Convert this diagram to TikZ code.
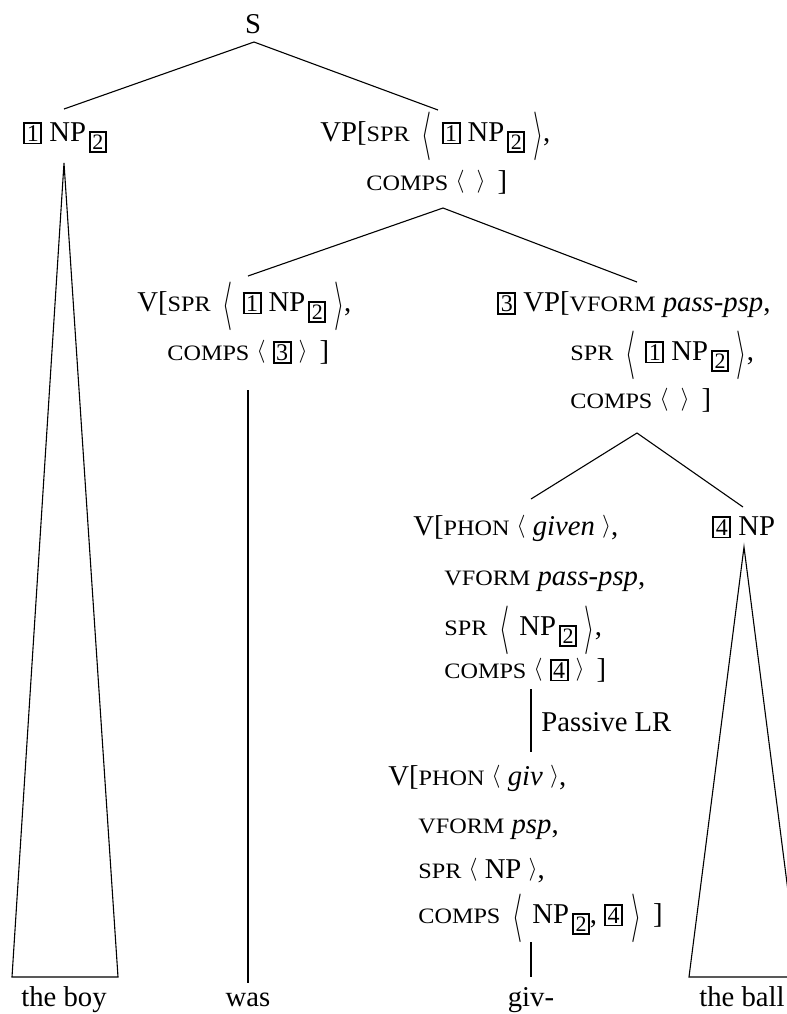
\documentclass[tikz,border=0pt]{standalone}
\usepackage{fontspec}
\setmainfont{Liberation Serif}
\usepackage{graphicx}
\newcommand\fsc[1]{\scalebox{1.1}[1]{\fontsize{11}{12}\selectfont #1}}
\newcommand\bx[1]{{\setlength\fboxsep{0.8pt}\setlength\fboxrule{0.9pt}\fbox{\fontsize{12}{12}\selectfont #1}}}
\newcommand\sbx[1]{\hspace{1.5pt}\raisebox{-4.2pt}{\setlength\fboxsep{0.8pt}\setlength\fboxrule{0.9pt}\fbox{\fontsize{11}{11}\selectfont #1}}}
\newcommand\la{\raisebox{0.08em}{\scalebox{0.8}{$\langle$}}}
\newcommand\ra{\raisebox{0.08em}{\scalebox{0.8}{$\rangle$}}}
\newcommand\bigang[1]{\raisebox{-0.8pt}{$\vcenter{\hbox{\resizebox*{5pt}{25.5pt}{$\Big#1$}}}$}}
\newcommand\Bla{\hspace{6pt}\bigang\langle\hspace{5pt}}
\newcommand\Bra{\hspace{4pt}\bigang\rangle}
\tikzset{
  lbl/.style={anchor=base west, inner sep=0pt, font=\fontsize{14.35}{17.2}\selectfont},
  wrd/.style={anchor=base, inner sep=0pt, font=\fontsize{14.35}{17.2}\selectfont},
  edge/.style={line width=0.55pt}
}
\begin{document}
\begin{tikzpicture}[x=0.5pt,y=-0.5pt]
\useasboundingbox (0,0) rectangle (787,1014);
\clip (0,0) rectangle (787,1014);
% labels
\node[wrd] (S) at (253,33) {S};
\node[lbl] (np1) at (23,141) {\bx{1} NP\sbx{2}};
\node[lbl] (vp1) at (320,141) {VP[\fsc{SPR}\Bla\bx{1} NP\sbx{2}\Bra,};
\node[lbl] (vp2) at (366,190) {\fsc{COMPS} \la\hspace{6pt}\ra\ \,]};
\node[lbl] (v1) at (137,311) {V[\fsc{SPR}\Bla\bx{1} NP\sbx{2}\Bra,};
\node[lbl] (v2) at (167,360) {\fsc{COMPS} \la\ \bx{3} \ra\ \,]};
\node[lbl] (pv1) at (497,311) {\bx{3} VP[\fsc{VFORM} \textit{pass-psp},};
\node[lbl] (pv2) at (570,360) {\fsc{SPR}\Bla\bx{1} NP\sbx{2}\Bra,};
\node[lbl] (pv3) at (570,408) {\fsc{COMPS} \la\hspace{6pt}\ra\ \,]};
\node[lbl] (g1) at (413,535) {V[\fsc{PHON} \la\ \textit{given} \ra,};
\node[lbl] (g2) at (444,585) {\fsc{VFORM} \textit{pass-psp},};
\node[lbl] (g3) at (444,635) {\fsc{SPR}\Bla NP\sbx{2}\Bra,};
\node[lbl] (g4) at (444,678) {\fsc{COMPS} \la\ \bx{4} \ra\ \,]};
\node[lbl] (np4) at (712,535) {\bx{4} NP};
\node[lbl] (lr) at (541,731) {Passive LR};
\node[lbl] (h1) at (388,785) {V[\fsc{PHON} \la\ \textit{giv} \ra,};
\node[lbl] (h2) at (418,833) {\fsc{VFORM} \textit{psp},};
\node[lbl] (h3) at (418,878) {\fsc{SPR} \la\ NP \ra,};
\node[lbl] (h4) at (418,923) {\fsc{COMPS}\Bla NP\sbx{2}, \bx{4}\Bra\hspace{6pt}]};
\node[wrd] (w1) at (64,1006) {the boy};
\node[wrd] (w2) at (248,1006) {was};
\node[wrd] (w3) at (531,1006) {giv-};
\node[wrd] (w4) at (742,1006) {the ball};
% connector ends
\coordinate (s-b) at (254,42);
\coordinate (np1-t) at (64,109);
\coordinate (vp-t) at (438,110);
\coordinate (vp-b) at (443,208);
\coordinate (v-t) at (248,276);
\coordinate (pv-t) at (637,282);
\coordinate (pv-b) at (637,433);
\coordinate (g-t) at (531,499);
\coordinate (np4-t) at (743,507);
\coordinate (np1-a) at (64,163);
\coordinate (np1-l) at (12,977);
\coordinate (np1-r) at (118,977);
\coordinate (v-b) at (248,390);
\coordinate (was-t) at (248,983);
\coordinate (g-b) at (531,689);
\coordinate (h-t) at (531,752);
\coordinate (h-b) at (531,942);
\coordinate (giv-t) at (531,977);
\coordinate (np4-a) at (744,547);
\coordinate (np4-l) at (689,977);
\coordinate (np4-r) at (799,977);
% connectors
\draw[edge] (np1-t) -- (s-b) -- (vp-t);
\draw[edge] (v-t) -- (vp-b) -- (pv-t);
\draw[edge] (g-t) -- (pv-b) -- (np4-t);
\draw[edge] (np1-a) -- (np1-l) -- (np1-r) -- cycle;
\draw[edge] (v-b) -- (was-t);
\draw[edge] (g-b) -- (h-t);
\draw[edge] (h-b) -- (giv-t);
\draw[edge] (np4-a) -- (np4-l) -- (np4-r) -- cycle;
\end{tikzpicture}
\end{document}
